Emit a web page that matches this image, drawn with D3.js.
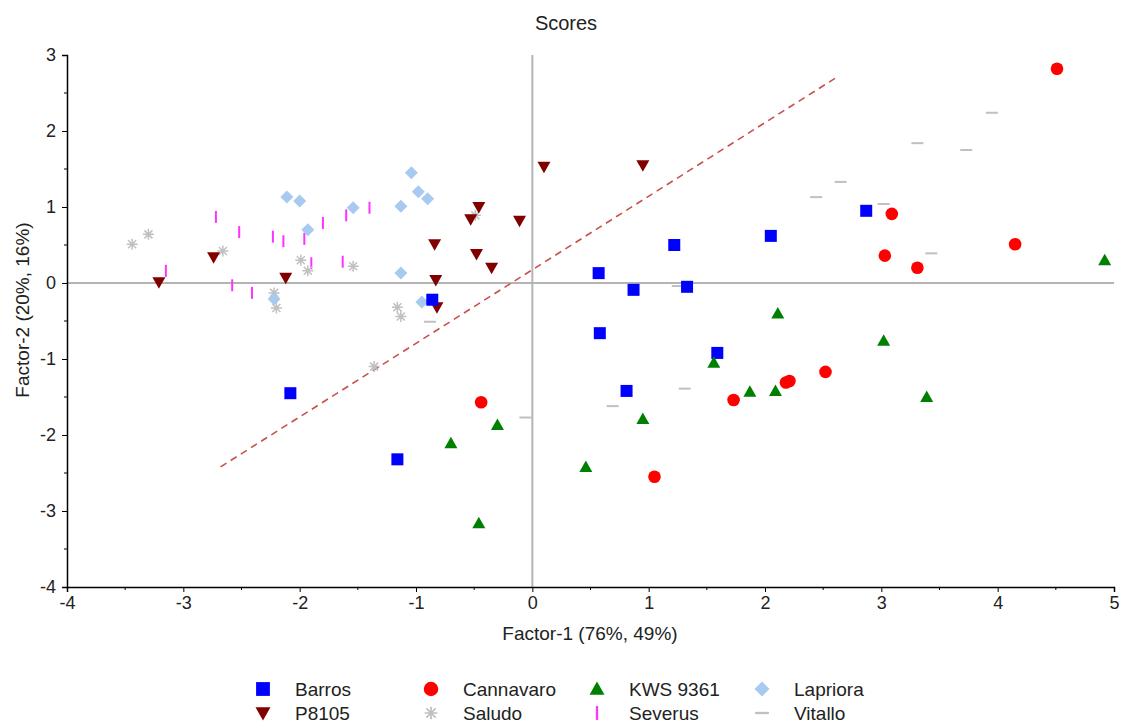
<!DOCTYPE html>
<html><head><meta charset="utf-8">
<script src="https://cdn.jsdelivr.net/npm/d3@7"></script>
<style>body{margin:0;background:#fff;} text{font-family:"Liberation Sans",Arial,sans-serif;}</style>
</head><body>
<svg id="chart" width="1121" height="722"></svg>
<script>
const xTicks = [-4,-3,-2,-1,0,1,2,3,4,5];
const yTicks = [-4,-3,-2,-1,0,1,2,3];
const seriesNames = ["Barros","Cannavaro","KWS 9361","Lapriora","P8105","Saludo","Severus","Vitallo"];

const barros = [[-0.86,-0.22],[-2.08,-1.45],[-1.16,-2.32],[0.57,0.13],[0.58,-0.66],[0.87,-0.09],[1.22,0.50],[1.33,-0.05],[0.81,-1.42],[1.59,-0.92],[2.05,0.62],[2.87,0.95]];
const cannavaro = [[4.51,2.82],[3.09,0.91],[3.03,0.36],[3.31,0.20],[4.15,0.51],[-0.44,-1.57],[1.05,-2.55],[1.73,-1.54],[2.18,-1.31],[2.21,-1.29],[2.52,-1.17]];
const kws9361 = [[4.92,0.30],[2.11,-0.40],[3.02,-0.76],[3.39,-1.50],[1.56,-1.05],[1.87,-1.43],[2.09,-1.42],[0.95,-1.79],[0.46,-2.42],[-0.30,-1.87],[-0.70,-2.11],[-0.46,-3.16]];
const lapriora = [[-2.11,1.13],[-2.00,1.08],[-1.93,0.70],[-2.22,-0.21],[-1.04,1.45],[-0.98,1.20],[-0.90,1.11],[-1.54,0.99],[-1.13,1.01],[-1.13,0.13],[-0.95,-0.25]];
const p8105 = [[-3.21,0.01],[-2.74,0.34],[-2.12,0.07],[0.10,1.53],[0.95,1.55],[-0.46,1.00],[-0.53,0.84],[-0.11,0.82],[-0.84,0.51],[-0.48,0.38],[-0.35,0.20],[-0.83,0.04],[-0.82,-0.32]];
const saludo = [[-3.44,0.51],[-3.30,0.64],[-2.66,0.42],[-1.99,0.30],[-1.93,0.16],[-2.22,-0.13],[-2.20,-0.33],[-1.54,0.22],[-0.49,0.89],[-1.16,-0.32],[-1.13,-0.44],[-1.36,-1.10]];
const severus = [[-2.72,0.87],[-2.52,0.67],[-2.23,0.61],[-2.14,0.55],[-1.96,0.58],[-1.80,0.79],[-1.90,0.26],[-3.15,0.16],[-2.58,-0.03],[-2.41,-0.13],[-1.60,0.89],[-1.40,0.99],[-1.63,0.28]];
const vitallo = [[3.95,2.24],[3.31,1.84],[3.73,1.75],[2.65,1.33],[2.44,1.13],[3.02,1.04],[3.43,0.39],[1.25,-0.04],[1.31,-1.39],[0.69,-1.62],[-0.06,-1.77],[-0.88,-0.51]];
const trendX = [-2.68, 2.62];
const trendY = [-2.42, 2.71];

const svg = d3.select("#chart");
const L = 67, R = 1114, T = 55, B = 587;
const x = d3.scaleLinear().domain([-4,5]).range([L,R]);
const y = d3.scaleLinear().domain([-4,3]).range([B,T]);

// zero lines
svg.append("line").attr("x1",x(-4)).attr("x2",x(5)).attr("y1",y(0)).attr("y2",y(0)).attr("stroke","#b4b4b4").attr("stroke-width",2);
svg.append("line").attr("x1",x(0)).attr("x2",x(0)).attr("y1",y(-4)).attr("y2",y(3)).attr("stroke","#b4b4b4").attr("stroke-width",2);

// trend dashed line
svg.append("line").attr("x1",x(trendX[0])).attr("y1",y(trendY[0])).attr("x2",x(trendX[1])).attr("y2",y(trendY[1]))
  .attr("stroke","#c8514a").attr("stroke-width",1.6).attr("stroke-dasharray","7,5");

// axes
const fmt = d => String(d);
const xAxis = d3.axisBottom(x).tickValues(xTicks).tickFormat(fmt).tickSize(5).tickPadding(3);
const yAxis = d3.axisLeft(y).tickValues(yTicks).tickFormat(fmt).tickSize(5).tickPadding(6);
const gx = svg.append("g").attr("transform",`translate(0,${B})`).call(xAxis);
const gy = svg.append("g").attr("transform",`translate(${L},0)`).call(yAxis);
// minor ticks
const xMinor = d3.range(-3.5,5,1), yMinor = d3.range(-3.5,3,1);
svg.append("g").selectAll("line").data(xMinor).join("line").attr("x1",d=>x(d)).attr("x2",d=>x(d)).attr("y1",B).attr("y2",B+3).attr("stroke","#000");
svg.append("g").selectAll("line").data(yMinor).join("line").attr("y1",d=>y(d)).attr("y2",d=>y(d)).attr("x1",L).attr("x2",L-3).attr("stroke","#000");
[gx,gy].forEach(g=>{
  g.select(".domain").attr("stroke","#000").attr("stroke-width",1.5);
  g.selectAll(".tick line").attr("stroke","#000");
  g.selectAll(".tick text").attr("font-size",18).attr("fill","#222").attr("font-family","Liberation Sans, Arial, sans-serif");
});
gx.selectAll(".tick text").attr("dy","0.8em");

// titles
svg.append("text").attr("x",566).attr("y",30).attr("text-anchor","middle").attr("font-size",20).attr("fill","#222").text("Scores");
svg.append("text").attr("x",590).attr("y",640).attr("text-anchor","middle").attr("font-size",19).attr("fill","#222").text("Factor-1 (76%, 49%)");
svg.append("text").attr("transform","translate(29,310) rotate(-90)").attr("text-anchor","middle").attr("font-size",19).attr("fill","#222").text("Factor-2 (20%, 16%)");

// marker definitions
const markers = {
  "Barros": {data: barros, draw: (g)=>g.append("rect").attr("x",-6).attr("y",-6).attr("width",12).attr("height",12).attr("fill","#0000ff")},
  "Cannavaro": {data: cannavaro, draw: (g)=>g.append("circle").attr("r",6.3).attr("fill","#ff0000")},
  "KWS 9361": {data: kws9361, draw: (g)=>g.append("path").attr("d","M0,-6.5L6.5,5L-6.5,5Z").attr("fill","#008000")},
  "Lapriora": {data: lapriora, draw: (g)=>g.append("path").attr("d","M0,-6.5L6.5,0L0,6.5L-6.5,0Z").attr("fill","#a8caf0")},
  "P8105": {data: p8105, draw: (g)=>g.append("path").attr("d","M-6.5,-5L6.5,-5L0,6.5Z").attr("fill","#800000")},
  "Saludo": {data: saludo, draw: (g)=>g.append("path").attr("d","M-5.5,0L5.5,0M0,-5.5L0,5.5M-4,-4L4,4M-4,4L4,-4").attr("stroke","#c0c0c0").attr("stroke-width",1.5).attr("fill","none")},
  "Severus": {data: severus, draw: (g)=>g.append("line").attr("x1",0).attr("x2",0).attr("y1",-6).attr("y2",6).attr("stroke","#ff33ff").attr("stroke-width",2)},
  "Vitallo": {data: vitallo, draw: (g)=>g.append("line").attr("x1",-6).attr("x2",6).attr("y1",0).attr("y2",0).attr("stroke","#c0c0c0").attr("stroke-width",2)}
};
const drawOrder = ["Vitallo","Severus","Saludo","Lapriora","P8105","Barros","KWS 9361","Cannavaro"];
drawOrder.forEach(name=>{
  const m = markers[name];
  const g = svg.append("g");
  g.selectAll("g").data(m.data).join("g").attr("transform",d=>`translate(${x(d[0])},${y(d[1])})`).each(function(){ m.draw(d3.select(this)); });
});

// legend
const legX = [263, 431, 597, 762];
const legY = [689, 713];
const legendOrder = ["Barros","Cannavaro","KWS 9361","Lapriora","P8105","Saludo","Severus","Vitallo"];
legendOrder.forEach((name,i)=>{
  const col = i%4, row = Math.floor(i/4);
  const g = svg.append("g").attr("transform",`translate(${legX[col]},${legY[row]}) scale(1.15)`);
  markers[name].draw(g);
  svg.append("text").attr("x",legX[col]+32).attr("y",legY[row]+6.5).attr("font-size",19).attr("fill","#222").text(name);
});
</script>
</body></html>
